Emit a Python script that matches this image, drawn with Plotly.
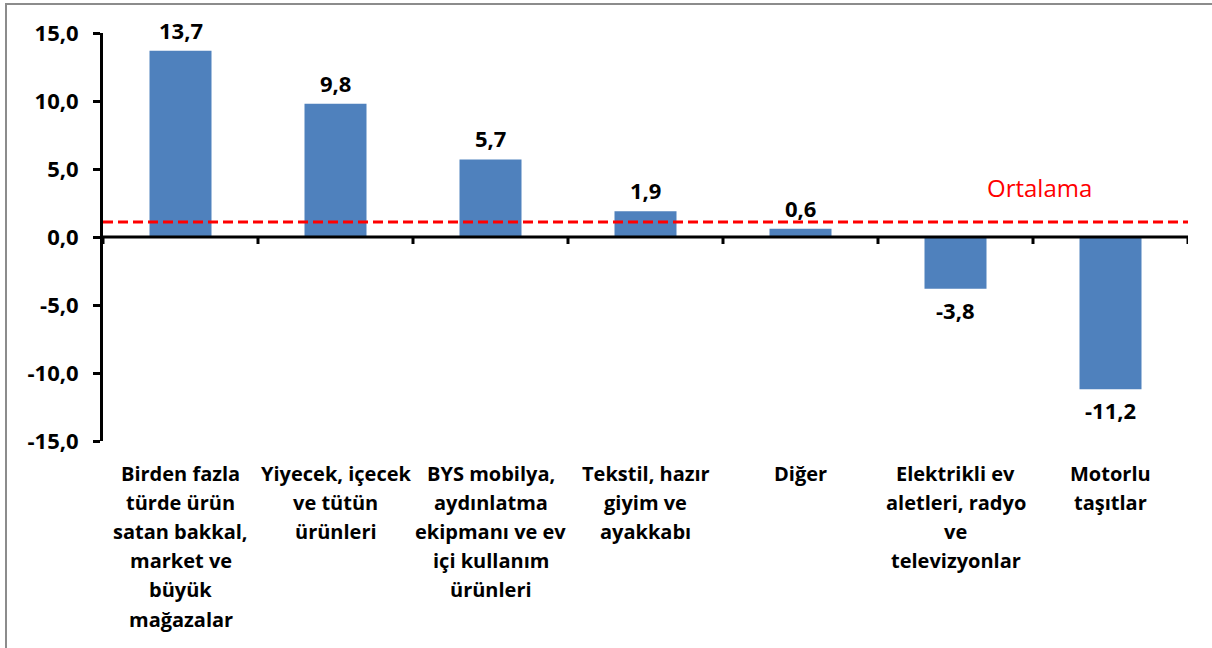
import plotly.graph_objects as go

categories = [
    "Birden fazla<br>türde ürün<br>satan bakkal,<br>market ve<br>büyük<br>mağazalar",
    "Yiyecek, içecek<br>ve tütün<br>ürünleri",
    "BYS mobilya,<br>aydınlatma<br>ekipmanı ve ev<br>içi kullanım<br>ürünleri",
    "Tekstil, hazır<br>giyim ve<br>ayakkabı",
    "Diğer",
    "Elektrikli ev<br>aletleri, radyo<br>ve<br>televizyonlar",
    "Motorlu<br>taşıtlar",
]
values = [13.7, 9.8, 5.7, 1.9, 0.6, -3.8, -11.2]
average = 1.1
average_label = "Ortalama"
y_ticks = [-15, -10, -5, 0, 5, 10, 15]


def fmt(v):
    return f"{v:.1f}".replace(".", ",")


BAR = "#4F81BD"
FONT = "Open Sans"

L, R, T, B = 103, 24, 33, 207
W, H = 1212, 648
pw, ph = W - L - R, H - T - B

x_idx = list(range(len(categories)))

fig = go.Figure()
fig.add_trace(go.Bar(
    x=x_idx, y=values, marker=dict(color=BAR, line=dict(width=0)),
    showlegend=False, hoverinfo="skip",
))

shapes = []
# zero axis line
shapes.append(dict(type="line", xref="paper", yref="y", x0=0, x1=1, y0=0, y1=0,
                   line=dict(color="black", width=3), layer="above"))
# boundary ticks on zero line
for i in range(len(categories) + 1):
    shapes.append(dict(type="line", xref="x", yref="y", x0=i - 0.5, x1=i - 0.5,
                       y0=0, y1=-7 / (ph / 30), line=dict(color="black", width=3), layer="above"))
# average dashed line
shapes.append(dict(type="line", xref="paper", yref="y", x0=0, x1=1, y0=average, y1=average,
                   line=dict(color="#FF0000", width=3, dash="10px,5px"), layer="above"))
# outer border
shapes.append(dict(type="rect", xref="paper", yref="paper",
                   x0=(6 - L) / pw, x1=(W + 30 - L) / pw,
                   y0=-(H + 30 - (H - B)) / ph, y1=((H - B) - 4) / ph,
                   line=dict(color="#8C8C8C", width=2), fillcolor="rgba(0,0,0,0)", layer="below"))

annotations = []
for i, v in enumerate(values):
    annotations.append(dict(
        x=i, xref="x", y=v, yref="y", yanchor="bottom" if v >= 0 else "top",
        xanchor="center", yshift=4 if v >= 0 else -4, text=fmt(v), showarrow=False,
        font=dict(family=FONT, size=22, color="black", weight="bold"),
    ))
for i, cat in enumerate(categories):
    for k, line in enumerate(cat.split("<br>")):
        annotations.append(dict(
            x=i, xref="x", y=0, yref="paper", yanchor="middle", xanchor="center",
            yshift=-(32 + 29.2 * k), text=line, showarrow=False,
            font=dict(family=FONT, size=20, color="black", weight="bold"),
        ))
annotations.append(dict(
    x=(1039 - L) / pw, xref="paper", xanchor="center", y=average, yref="y", yshift=35,
    yanchor="middle", text=average_label, showarrow=False,
    font=dict(family=FONT, size=24, color="#FF0000"),
))

fig.update_layout(
    width=W, height=H, margin=dict(l=L, r=R, t=T, b=B),
    paper_bgcolor="white", plot_bgcolor="white",
    bargap=0.6,
    shapes=shapes, annotations=annotations,
    xaxis=dict(range=[-0.5, len(categories) - 0.5], showticklabels=False, showline=False,
               showgrid=False, zeroline=False, ticks=""),
    yaxis=dict(range=[-15, 15], tickvals=y_ticks, ticktext=[fmt(t) for t in y_ticks],
               showgrid=False, zeroline=False, showline=True, linecolor="black", linewidth=3,
               ticks="outside", ticklen=7, tickwidth=3, tickcolor="black",
               ticklabelstandoff=10,
               tickfont=dict(family=FONT, size=22, color="black", weight="bold")),
)

fig.write_html("out.html", config={"displayModeBar": False},
               post_script="document.body.style.margin='0px';")
